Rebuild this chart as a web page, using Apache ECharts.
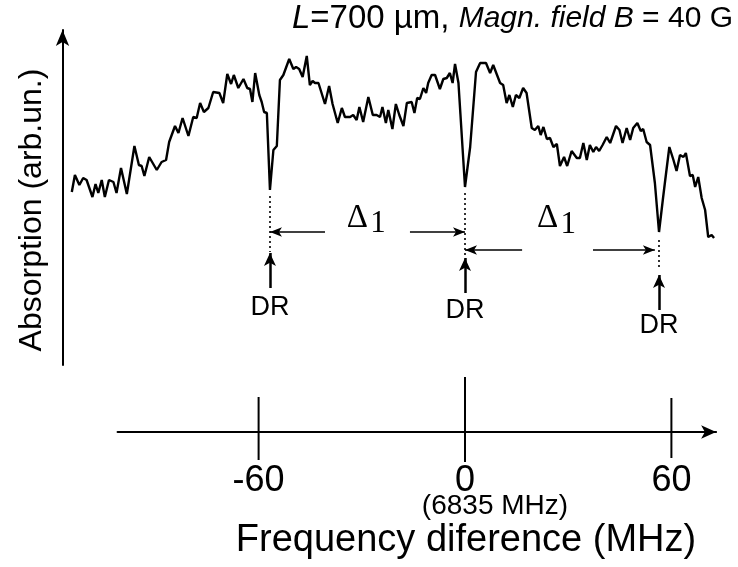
<!DOCTYPE html>
<html><head><meta charset="utf-8">
<script src="https://cdn.jsdelivr.net/npm/echarts@6/dist/echarts.min.js"></script>
<style>html,body{margin:0;padding:0;background:#fff}#c{width:738px;height:567px}</style>
</head><body><div id="c"></div>
<script>
// ---- data ----
const freqMHz = [-114.3,-113.4,-112.1,-111.0,-110.0,-108.3,-107.4,-106.6,-105.6,-104.7,-103.5,-102.2,-101.3,-100.0,-98.3,-96.1,-94.8,-94.0,-93.2,-91.8,-89.6,-88.2,-86.9,-86.0,-84.3,-83.3,-82.1,-80.4,-79.0,-78.0,-77.0,-75.9,-74.6,-73.2,-71.4,-70.3,-69.1,-68.0,-67.2,-65.9,-64.4,-63.3,-62.5,-61.8,-61.0,-59.8,-59.1,-58.4,-57.6,-56.7,-55.7,-54.7,-53.8,-52.8,-51.1,-49.9,-49.1,-48.2,-47.2,-46.0,-45.1,-44.3,-43.6,-42.6,-40.7,-39.5,-38.5,-38.1,-37.0,-35.8,-34.9,-33.4,-32.5,-31.5,-30.7,-29.6,-28.1,-26.8,-25.7,-24.7,-24.0,-23.0,-22.3,-21.1,-20.1,-19.1,-17.9,-16.9,-15.5,-14.7,-13.9,-13.1,-12.1,-11.3,-10.7,-9.7,-8.7,-7.3,-6.3,-5.3,-4.4,-3.6,-2.9,-1.9,0.0,1.5,3.2,4.4,6.1,7.3,8.2,10.2,11.1,12.1,12.9,13.9,14.8,15.8,16.9,17.9,19.4,20.3,21.3,22.0,22.8,23.8,24.7,25.7,26.7,27.6,28.8,29.7,31.0,32.5,33.4,34.4,35.4,36.3,37.3,38.1,39.0,40.0,41.2,42.2,43.9,44.9,45.8,47.0,48.0,48.9,50.1,51.1,51.8,52.8,53.8,55.2,56.4,57.5,58.1,59.4,60.6,61.5,62.5,63.5,64.2,65.4,66.2,66.9,67.8,68.8,69.8,70.7,71.7,72.4];
const absorption = [108,125,115,122,120,103,116,107,120,103,120,118,107,132,106,154,135,134,124,143,130,138,140,158,174,167,182,164,183,182,197,188,192,208,207,197,226,216,225,212,221,212,211,198,227,205,198,188,187,110,150,154,220,225,241,231,233,231,223,244,215,219,217,217,196,214,196,198,177,192,183,183,185,180,193,178,203,185,185,183,193,177,190,171,196,185,174,197,198,187,202,201,212,207,217,225,225,211,221,222,227,217,236,217,113,153,228,237,237,227,235,217,215,197,205,193,205,202,212,207,172,170,174,165,173,161,162,153,156,134,143,134,149,142,142,157,140,155,148,153,149,155,163,157,174,170,157,172,160,172,177,169,171,158,155,117,68,100,117,153,140,129,145,143,147,124,125,113,123,102,90,63,65,62];
const tickValues = [-60, 0, 60];
const tickLabels = ['-60', '0', '60'];
const zeroNote = '(6835 MHz)';
const drFreq = [-56.7, 0, 56.4];          // double-resonance dips
const drLabel = 'DR';
const deltaLabel = ['\u0394', '1'];
const titleParts = ['L', '=700 \u00b5m, ', 'Magn. field B', ' = 40 G'];
const yName = 'Absorption (arb.un.)';
const xName = 'Frequency diference (MHz)';

// ---- layout ----
const PX_PER_MHZ = 3.44, ZERO_PX = 465;
const x0Min = -117, xMax = 73, x1Min = -101;
const FONT = "'Liberation Sans', Arial, sans-serif";
const SERIF = "'Liberation Serif', 'Times New Roman', serif";

const series0 = freqMHz.map((f, i) => [f, absorption[i]]);

// annotation geometry (in data units of grid 0)
const dotted = [[drFreq[0], 104, 48], [drFreq[1], 107, 45], [drFreq[2], 60, 30]];
const upArrows = [[drFreq[0], 12, 47], [drFreq[1], 7, 42], [drFreq[2], -10, 25]];
const drText = [[drFreq[0], -8], [drFreq[1], -11], [drFreq[2], -26]];
const hArrows = [[-40.7, drFreq[0], 68], [-16.0, drFreq[1], 68], [16.6, drFreq[1], 50], [37.2, 55.2, 50]];
const deltaPos = [[-31.3, 82, -25.3, 76], [24.0, 82, 30.0, 75]];
const tickExtent = [[-60, -28, 35], [0, -30, 55], [60, -26, 34]];

const markData = [];
dotted.forEach(d => markData.push([
  {coord: [d[0], d[1]], symbol: 'none', lineStyle: {type: [2, 3], width: 1.6, color: '#000'}},
  {coord: [d[0], d[2]], symbol: 'none'}]));
upArrows.forEach(d => markData.push([
  {coord: [d[0], d[1]], symbol: 'none', lineStyle: {type: 'solid', width: 2.5, color: '#000'}},
  {coord: [d[0], d[2]], symbol: 'arrow', symbolSize: [9, 13]}]));
hArrows.forEach(d => markData.push([
  {coord: [d[0], d[2]], symbol: 'none', lineStyle: {type: 'solid', width: 1.5, color: '#000'}},
  {coord: [d[1], d[2]], symbol: 'arrow', symbolSize: [7, 12]}]));

const textItems = [];
drText.forEach(d => textItems.push([d[0], d[1], drLabel, 'dr']));
deltaPos.forEach(d => { textItems.push([d[0], d[1], deltaLabel[0], 'delta']); textItems.push([d[2], d[3], deltaLabel[1], 'one']); });
const textFont = {dr: '27px ' + FONT, delta: '33px ' + SERIF, one: '31px ' + SERIF};

const chart = echarts.init(document.getElementById('c'), null, {renderer: 'canvas'});
chart.setOption({
  animation: false,
  backgroundColor: '#fff',
  grid: [
    {left: ZERO_PX + x0Min * PX_PER_MHZ, width: (xMax - x0Min) * PX_PER_MHZ, top: 30, height: 335},
    {left: ZERO_PX + x1Min * PX_PER_MHZ, width: (xMax - x1Min) * PX_PER_MHZ, top: 377, height: 55}
  ],
  xAxis: [
    {gridIndex: 0, type: 'value', min: x0Min, max: xMax, show: false},
    {gridIndex: 1, type: 'value', min: x1Min, max: xMax,
     splitLine: {show: false}, axisTick: {show: false},
     axisLine: {onZero: false, symbol: ['none', 'arrow'], symbolSize: [10, 15], lineStyle: {color: '#000', width: 2}},
     axisLabel: {customValues: tickValues, margin: 35, color: '#000', fontFamily: FONT, fontSize: 36, lineHeight: 28,
       formatter: v => { const i = tickValues.indexOf(v); const t = i >= 0 ? tickLabels[i] : ''; return v === 0 ? t + '\n{s|' + zeroNote + '}' : t; },
       rich: {s: {fontFamily: FONT, fontSize: 28, lineHeight: 22, padding: [0, 0, 0, 60], color: '#000'}}}}
  ],
  yAxis: [
    {gridIndex: 0, type: 'value', min: -65, max: 270, splitLine: {show: false}, axisTick: {show: false}, axisLabel: {show: false},
     axisLine: {show: true, onZero: false, symbol: ['none', 'arrow'], symbolSize: [10, 16], lineStyle: {color: '#000', width: 2}}},
    {gridIndex: 1, type: 'value', min: 0, max: 55, show: false}
  ],
  series: [
    {type: 'line', xAxisIndex: 0, yAxisIndex: 0, data: series0, showSymbol: false, symbol: 'none',
     lineStyle: {color: '#000', width: 2.4}, silent: true},
    {type: 'custom', xAxisIndex: 0, yAxisIndex: 0, data: textItems, silent: true,
     renderItem: (params, api) => {
       const p = api.coord([api.value(0), api.value(1)]);
       const item = textItems[params.dataIndex];
       return {type: 'text', x: p[0], y: p[1], style: {text: item[2], font: textFont[item[3]], fill: '#000', textAlign: 'center', textVerticalAlign: 'middle'}};
     },
     markLine: {silent: true, animation: false, label: {show: false}, data: markData}},
    {type: 'custom', xAxisIndex: 1, yAxisIndex: 1, data: tickExtent, silent: true, clip: false,
     renderItem: (params, api) => {
       const a = api.coord([api.value(0), api.value(1)]);
       const b = api.coord([api.value(0), api.value(2)]);
       return {type: 'line', shape: {x1: a[0], y1: a[1], x2: b[0], y2: b[1]}, style: {stroke: '#000', lineWidth: 2}};
     }}
  ],
  graphic: [
    {type: 'text', right: 5, top: 2, style: {
      text: '{i1|' + titleParts[0] + '}{n1|' + titleParts[1] + '}{i2|' + titleParts[2] + '}{n2|' + titleParts[3] + '}',
      rich: {
        i1: {fontFamily: FONT, fontSize: 33, fontStyle: 'italic', fill: '#000'},
        n1: {fontFamily: FONT, fontSize: 33, fill: '#000'},
        i2: {fontFamily: FONT, fontSize: 30, fontStyle: 'italic', fill: '#000'},
        n2: {fontFamily: FONT, fontSize: 30, fill: '#000'}
      }}},
    {type: 'text', x: 32, y: 210, rotation: Math.PI / 2, style: {text: yName, font: '32px ' + FONT, fill: '#000', textAlign: 'center', textVerticalAlign: 'middle'}},
    {type: 'text', x: 466, y: 541, style: {text: xName, font: '38px ' + FONT, fill: '#000', textAlign: 'center', textVerticalAlign: 'middle'}}
  ]
});
</script></body></html>
